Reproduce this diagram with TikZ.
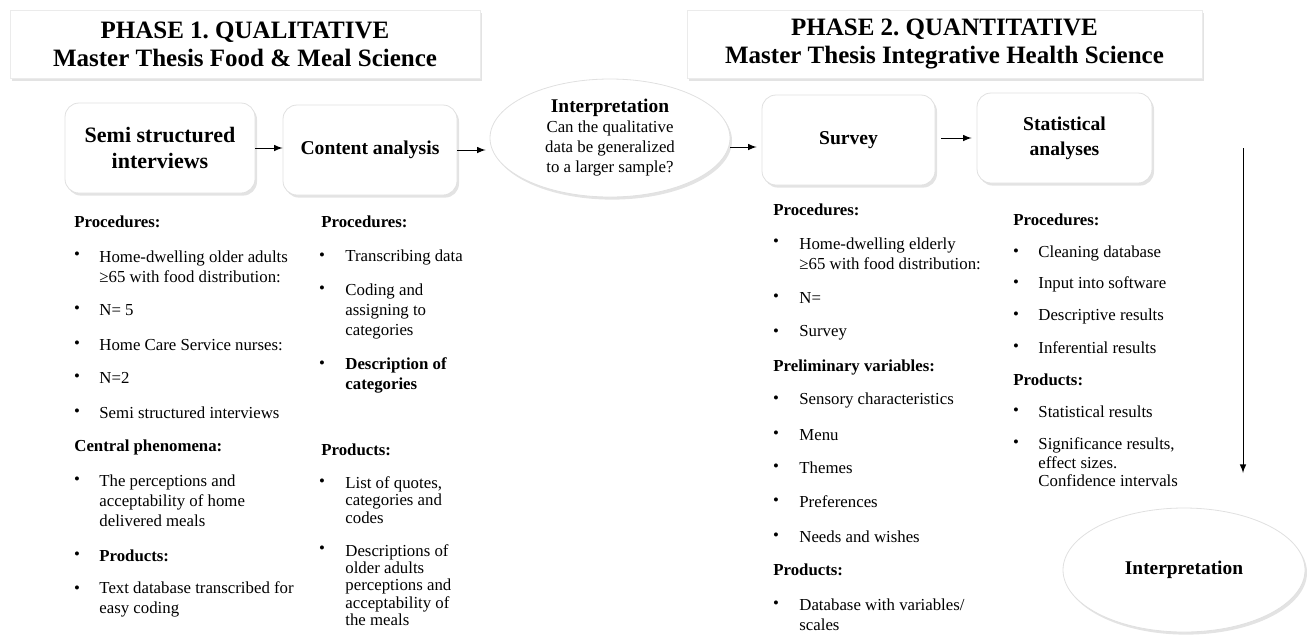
\documentclass[tikz,border=0pt]{standalone}
\usepackage{fontspec}
\setmainfont{Liberation Serif}
\frenchspacing
\usetikzlibrary{shapes, shadows, positioning}
\tikzstyle{txt}=[inner sep=0pt, anchor=west, align=left, font=\fontsize{8.4}{10}\selectfont]
\tikzstyle{tight}=[txt, font=\fontsize{8.4}{8.7}\selectfont]
\tikzstyle{hd}=[txt, font=\fontsize{8.4}{10}\selectfont\bfseries]
\tikzstyle{dot}=[inner sep=0pt, font=\fontsize{8.4}{10}\selectfont]
\tikzstyle{stage}=[rectangle, rounded corners=7pt, draw=black!12, fill=white, align=center, font=\fontsize{9.8}{12.5}\selectfont\bfseries, minimum height=45pt, drop shadow={opacity=0.22, shadow xshift=1pt, shadow yshift=-1.3pt}]
\tikzstyle{phase}=[rectangle, draw=black!8, fill=white, align=center, font=\fontsize{12.5}{14}\selectfont\bfseries, minimum height=34pt, drop shadow={opacity=0.22, shadow xshift=1pt, shadow yshift=-1.3pt}]
\tikzstyle{oval}=[ellipse, draw=black!12, fill=white, align=center, inner sep=0pt, drop shadow={opacity=0.22, shadow xshift=1pt, shadow yshift=-1.3pt}]
\tikzstyle{arr}=[->, >=latex, line width=0.5pt]
\begin{document}
\begin{tikzpicture}[x=0.5pt, y=-0.5pt]
\useasboundingbox (0,0) rectangle (1307,634);
% phase headers
\node[phase, minimum width=235pt] (ph1) at (245,44) {PHASE 1. QUALITATIVE\\Master Thesis Food \& Meal Science};
\node[phase, minimum width=257.5pt] (ph2) at (944.5,44) {PHASE 2. QUANTITATIVE\\Master Thesis Integrative Health Science};
% steps
\node[stage, minimum width=95pt, font=\fontsize{11}{13}\selectfont\bfseries] (semi) at (160,148) {Semi structured\\interviews};
\node[stage, minimum width=87pt] (cont) at (370,150) {Content analysis};
\node[oval, minimum width=120pt, minimum height=59pt, font=\fontsize{8.4}{10}\selectfont] (int1) at (610,138) {{\fontsize{9.7}{10}\selectfont\bfseries Interpretation}\\Can the qualitative\\data  be generalized\\to a larger sample?};
\node[stage, minimum width=86.5pt] (surv) at (848.5,140) {Survey};
\node[stage, minimum width=87.5pt] (stat) at (1064.5,138) {Statistical\\analyses};
\node[oval, minimum width=121pt, minimum height=62pt, font=\fontsize{9.7}{12}\selectfont\bfseries] (int2) at (1184,570) {Interpretation};
\coordinate (a3) at ([yshift=-3.5pt]surv.west);
\coordinate (vtop) at (1243,148); \coordinate (vbot) at (1243,473);
\draw[arr] (semi.east) -- (semi.east -| cont.west);
\draw[arr, shorten >=2pt] (cont.east) -- (cont.east -| int1.west);
\draw[arr, shorten >=2.5pt] (a3 -| int1.east) -- (a3);
\draw[arr, shorten <=3pt, shorten >=2.5pt] (surv.east |- stat.west) -- (stat.west);
\draw[arr] (vtop) -- (vbot);
% column 1
\node[hd] (h11) at (74,222) {Procedures:};
\node[dot] (b11) at (77,256) {\textbullet}; \node[txt] (t11) at (99,266.5) {Home-dwelling older adults\\≥65 with food distribution:};
\node[dot] (b12) at (77,310) {\textbullet}; \node[txt] (t12) at (99,310) {N= 5};
\node[dot] (b13) at (77,345) {\textbullet}; \node[txt] (t13) at (99,345) {Home Care Service nurses:};
\node[dot] (b14) at (77,378) {\textbullet}; \node[txt] (t14) at (99,378) {N=2};
\node[dot] (b15) at (77,413) {\textbullet}; \node[txt] (t15) at (99,413) {Semi structured interviews};
\node[hd] (h12) at (74,447) {Central phenomena:};
\node[dot] (b16) at (77,481) {\textbullet}; \node[txt] (t16) at (99,500.5) {The perceptions and\\acceptability of home\\delivered meals};
\node[dot] (b17) at (77,556) {\textbullet}; \node[hd] (t17) at (99,556) {Products:};
\node[dot] (b18) at (77,590) {\textbullet}; \node[txt] (t18) at (99,599.5) {Text database transcribed for\\easy coding};
% column 2
\node[hd] (h21) at (321,222) {Procedures:};
\node[dot] (b21) at (322,257) {\textbullet}; \node[txt] (t21) at (345,257) {Transcribing data};
\node[dot] (b22) at (322,290) {\textbullet}; \node[txt] (t22) at (345,311) {Coding and\\assigning to\\categories};
\node[dot] (b23) at (322,365) {\textbullet}; \node[hd] (t23) at (345,375) {Description of\\categories};
\node[hd] (h22) at (321,450) {Products:};
\node[dot] (b24) at (322,483) {\textbullet}; \node[tight] (t24) at (345,500) {List of quotes,\\categories and\\codes};
\node[dot] (b25) at (322,550) {\textbullet}; \node[tight] (t25) at (345,585) {Descriptions of\\older adults\\perceptions and\\acceptability of\\the meals};
% column 3
\node[hd] (h31) at (773,210) {Procedures:};
\node[dot] (b31) at (776,243) {\textbullet}; \node[txt] (t31) at (799,253.5) {Home-dwelling elderly\\≥65 with food distribution:};
\node[dot] (b32) at (776,298) {\textbullet}; \node[txt] (t32) at (799,298) {N=};
\node[dot] (b33) at (776,333) {\textbullet}; \node[txt] (t33) at (799,333) {Survey};
\node[hd] (h32) at (773,367) {Preliminary variables:};
\node[dot] (b34) at (776,400) {\textbullet}; \node[txt] (t34) at (799,400) {Sensory characteristics};
\node[dot] (b35) at (776,435) {\textbullet}; \node[txt] (t35) at (799,435) {Menu};
\node[dot] (b36) at (776,468) {\textbullet}; \node[txt] (t36) at (799,468) {Themes};
\node[dot] (b37) at (776,502) {\textbullet}; \node[txt] (t37) at (799,502) {Preferences};
\node[dot] (b38) at (776,537) {\textbullet}; \node[txt] (t38) at (799,537) {Needs and wishes};
\node[hd] (h33) at (773,570) {Products:};
\node[dot] (b39) at (776,605) {\textbullet}; \node[txt] (t39) at (799,615) {Database with variables/\\scales};
% column 4
\node[hd] (h41) at (1013,220) {Procedures:};
\node[dot] (b41) at (1016,253) {\textbullet}; \node[txt] (t41) at (1038,253) {Cleaning database};
\node[dot] (b42) at (1016,284) {\textbullet}; \node[txt] (t42) at (1038,284) {Input into software};
\node[dot] (b43) at (1016,316) {\textbullet}; \node[txt] (t43) at (1038,316) {Descriptive results};
\node[dot] (b44) at (1016,348) {\textbullet}; \node[txt] (t44) at (1038,348) {Inferential results};
\node[hd] (h42) at (1013,380) {Products:};
\node[dot] (b45) at (1016,412) {\textbullet}; \node[txt] (t45) at (1038,412) {Statistical results};
\node[dot] (b46) at (1016,444) {\textbullet}; \node[tight, font=\fontsize{8.4}{9.3}\selectfont] (t46) at (1038,462.5) {Significance results,\\effect sizes.\\Confidence intervals};
\end{tikzpicture}
\end{document}
